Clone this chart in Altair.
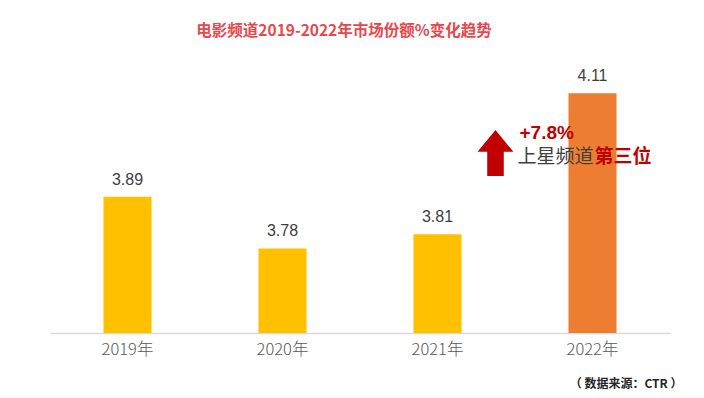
import altair as alt
import pandas as pd

years = ["2019年", "2020年", "2021年", "2022年"]
shares = [3.89, 3.78, 3.81, 4.11]
bar_colors = ["#FFC000", "#FFC000", "#FFC000", "#ED7D31"]
value_labels = ["3.89", "3.78", "3.81", "4.11"]

title_text = "电影频道2019-2022年市场份额%变化趋势"
source_text = "（ 数据来源：CTR ）"
growth_text = "+7.8%"
rank_text_a = "上星频道"
rank_text_b = "第三位"
anno_year = "2022年"

df = pd.DataFrame({"year": years, "share": shares, "color": bar_colors, "label": value_labels})

CJK = "Noto Sans CJK SC"

x = alt.X("year:N", sort=years,
          scale=alt.Scale(paddingInner=0.69, paddingOuter=0.345),
          axis=alt.Axis(title=source_text, labelAngle=0, labelFont=CJK, labelFontSize=16.5, labelFontWeight=300,
                        labelColor="#595959", labelPadding=8, ticks=False, domainColor="#d9d9d9",
                        domainWidth=1.5, titleFont=CJK, titleFontSize=12, titleFontWeight="bold",
                        titleColor="#262626", titleAnchor="end", titleAlign="right",
                        titleBaseline="middle", titleX=632, titleY=50))
yscale = alt.Scale(domain=[3.6, 4.2], zero=False)
y = alt.Y("share:Q", scale=yscale, axis=None)

base = alt.Chart(df)
bars = base.mark_bar().encode(x=x, y=y, y2=alt.datum(3.6), color=alt.Color("color:N", scale=None))
labels = base.mark_text(baseline="bottom", dy=-9, fontSize=16, font="Liberation Sans",
                        color="#404040").encode(x=alt.X("year:N", sort=years), y="share:Q", text="label:N")

anno = pd.DataFrame({"year": [anno_year], "growth": [growth_text], "ra": [rank_text_a],
                     "rb": [rank_text_b], "g_y": [4.0255], "r_y": [3.9745], "a_y": [3.983]})
abase = alt.Chart(anno)
arrow_path = "M0,-1 L0.78,-0.05 L0.36,-0.05 L0.36,1 L-0.36,1 L-0.36,-0.05 L-0.78,-0.05 Z"
arrow = abase.mark_point(shape=arrow_path, size=2116, filled=True, opacity=1, color="#C00000",
                         xOffset=-97).encode(x=alt.X("year:N", sort=years), y=alt.Y("a_y:Q", scale=yscale))
growth = abase.mark_text(align="left", baseline="middle", dx=-73, fontSize=19, fontWeight="bold",
                         font="Liberation Sans", color="#C00000").encode(
    x=alt.X("year:N", sort=years), y=alt.Y("g_y:Q", scale=yscale), text="growth:N")
rank_a = abase.mark_text(align="left", baseline="middle", dx=-75, fontSize=19, font=CJK,
                         color="#404040").encode(
    x=alt.X("year:N", sort=years), y=alt.Y("r_y:Q", scale=yscale), text="ra:N")
rank_b = abase.mark_text(align="left", baseline="middle", dx=2, fontSize=19, fontWeight="bold", font=CJK,
                         color="#C00000").encode(
    x=alt.X("year:N", sort=years), y=alt.Y("r_y:Q", scale=yscale), text="rb:N")

chart = alt.layer(bars, labels, arrow, growth, rank_a, rank_b).properties(
    width=620, height=282,
    title=alt.TitleParams(title_text, font=CJK, fontSize=15.5, fontWeight="bold", color="#E8474C",
                          anchor="middle", dx=-16, offset=12),
    autosize=alt.AutoSizeParams(type="none"),
    padding={"left": 42, "top": 43, "right": 26, "bottom": 58},
).configure_view(stroke=None)

chart.save("out.html", embed_options={"renderer": "svg", "actions": False})
